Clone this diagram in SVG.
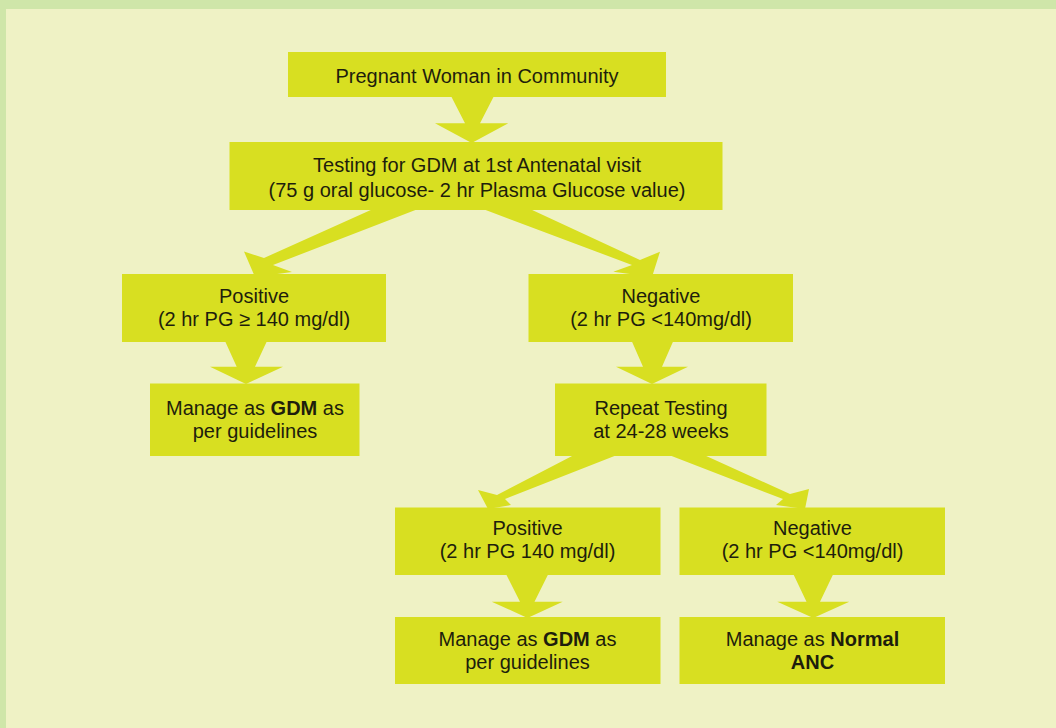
<svg xmlns="http://www.w3.org/2000/svg" width="1056" height="728" viewBox="0 0 1056 728">
  <style>
    .box { fill: #d8df21; }
    .arrow { fill: #d8df21; }
    .t { font-family: "Liberation Sans", Arial, sans-serif; font-size: 20px; fill: #1e1e0c; text-anchor: middle; }
    .b { font-weight: bold; }
  </style>
  <rect x="0" y="0" width="1056" height="728" fill="#cfe6a9"/>
  <rect x="6" y="9" width="1050" height="719" fill="#eff2c5"/>

  <g id="connectors">
    <polygon class="arrow" points="451,96 494,96 480,123.3 508.3,123.3 471.7,143 435,123.3 465,123.3"/>
    <polygon class="arrow" points="373,209 418,209 273,265 292,272 255,277 244,251.5 264,258"/>
    <polygon class="arrow" points="483,209 530,209 640,260 660,251.7 652,277 613.3,271.7 632,265"/>
    <polygon class="arrow" points="225,341 267,341 255,366.7 283,366.7 246,384 210,366.7 236.7,366.7"/>
    <polygon class="arrow" points="631.7,341 673.3,341 662,366.7 688,366.7 652,384 616,366.7 643,366.7"/>
    <polygon class="arrow" points="574,455 617,455 505,499 511,505 488,509 478,490 497,495"/>
    <polygon class="arrow" points="669,455 704,455 790,494 809,489 805,509 776,505 783,499"/>
    <polygon class="arrow" points="506,574 548.3,574 534.5,601.7 562.7,601.7 527.5,618 491.7,601.7 520,601.7"/>
    <polygon class="arrow" points="793.3,574 833.3,574 820,601.7 849.3,601.7 813.3,618 777.3,601.7 806.5,601.7"/>
  </g>

  <g id="n-pregnant">
    <rect class="box" x="288" y="52" width="378" height="45"/>
    <text class="t" x="477" y="82.5">Pregnant Woman in Community</text>
  </g>
  <g id="n-testing">
    <rect class="box" x="229.5" y="142" width="493" height="68"/>
    <text class="t" x="477" y="171.5">Testing for GDM at 1st Antenatal visit</text>
    <text class="t" x="477" y="196.5">(75 g oral glucose- 2 hr Plasma Glucose value)</text>
  </g>
  <g id="n-positive1">
    <rect class="box" x="122" y="274" width="264" height="68"/>
    <text class="t" x="254" y="303">Positive</text>
    <text class="t" x="254" y="325.5">(2 hr PG ≥ 140 mg/dl)</text>
  </g>
  <g id="n-negative1">
    <rect class="box" x="528.5" y="274" width="264.5" height="68"/>
    <text class="t" x="661" y="303">Negative</text>
    <text class="t" x="661" y="325.5">(2 hr PG &lt;140mg/dl)</text>
  </g>
  <g id="n-manage1">
    <rect class="box" x="150" y="383.5" width="209.5" height="72.5"/>
    <text class="t" x="255" y="415">Manage as <tspan class="b">GDM</tspan> as</text>
    <text class="t" x="255" y="437.5">per guidelines</text>
  </g>
  <g id="n-repeat">
    <rect class="box" x="555" y="383.5" width="211.5" height="72.5"/>
    <text class="t" x="661" y="415">Repeat Testing</text>
    <text class="t" x="661" y="437.5">at 24-28 weeks</text>
  </g>
  <g id="n-positive2">
    <rect class="box" x="395" y="507.5" width="265.5" height="67.5"/>
    <text class="t" x="527.5" y="535">Positive</text>
    <text class="t" x="527.5" y="558">(2 hr PG 140 mg/dl)</text>
  </g>
  <g id="n-negative2">
    <rect class="box" x="679.5" y="507.5" width="265.5" height="67.5"/>
    <text class="t" x="812.5" y="535">Negative</text>
    <text class="t" x="812.5" y="558">(2 hr PG &lt;140mg/dl)</text>
  </g>
  <g id="n-manage2">
    <rect class="box" x="395" y="617" width="265.5" height="67"/>
    <text class="t" x="527.5" y="646">Manage as <tspan class="b">GDM</tspan> as</text>
    <text class="t" x="527.5" y="668.5">per guidelines</text>
  </g>
  <g id="n-normal">
    <rect class="box" x="679.5" y="617" width="265.5" height="67"/>
    <text class="t" x="812.5" y="646">Manage as <tspan class="b">Normal</tspan></text>
    <text class="t b" x="812.5" y="668.5">ANC</text>
  </g>
</svg>
